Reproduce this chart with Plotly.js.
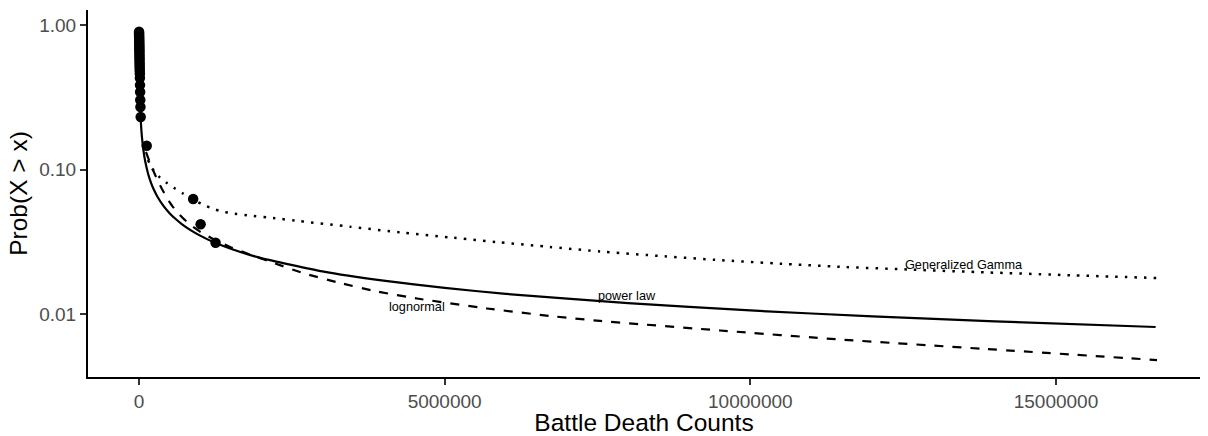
<!DOCTYPE html>
<html>
<head>
<meta charset="utf-8">
<script src="https://cdn.plot.ly/plotly-3.0.1.min.js"></script>
<style>
  html, body { margin: 0; padding: 0; background: #fff; }
  #chart { width: 1208px; height: 436px; }
</style>
</head>
<body>
<div id="chart"></div>
<script>
// Observed data: empirical survival probabilities
const obsX = [1000, 1500, 2000, 2500, 3000, 3500, 4000, 4500, 5000, 5500, 6000, 6500, 7000, 7500,
              8000, 8500, 9000, 9500, 10000, 11000, 12000, 13000, 14000,
              15000, 17000, 19000, 21000, 24000, 28000,
              126000, 886000, 1008000, 1253000];
const obsY = [0.90, 0.88, 0.86, 0.84, 0.82, 0.80, 0.78, 0.76, 0.74, 0.72, 0.70, 0.68, 0.66, 0.64,
              0.62, 0.60, 0.58, 0.56, 0.54, 0.52, 0.50, 0.48, 0.46,
              0.43, 0.384, 0.344, 0.303, 0.271, 0.231,
              0.146, 0.0625, 0.0418, 0.0311];

// Fitted power law (solid)
const plX = [30000, 40000, 50000, 75000, 100000, 150000, 200000, 250000, 300000, 400000, 500000,
             600000, 700000, 850000, 1000000, 1200000, 1500000, 2000000, 3000000, 4000000, 5000000,
             6000000, 8000000, 10000000, 12000000, 14000000, 16630000];
const plY = [0.2145, 0.1847, 0.1646, 0.1334, 0.1149, 0.0932, 0.0803, 0.0715, 0.0651, 0.0560, 0.0499,
             0.04544, 0.04195, 0.03793, 0.03487, 0.03173, 0.02827, 0.02435, 0.01974, 0.01701, 0.01515,
             0.01378, 0.01188, 0.01058, 0.00963, 0.00889, 0.00813];

// Fitted lognormal (dashed)
const lnX = [114500, 163600, 229000, 294500, 376300, 458100, 539800, 638000, 752500, 867000, 997900,
             1243200, 1488600, 1815800, 2224800, 2682800, 3288100, 3893400, 4547700, 5692800, 6723400,
             7541300, 9504400, 11467400, 13872100, 16653000];
const lnY = [0.1322, 0.1163, 0.0992, 0.0860, 0.0733, 0.0635, 0.0563, 0.0500, 0.0447, 0.0406, 0.0372,
             0.0325, 0.0291, 0.0258, 0.0224, 0.0192, 0.0164, 0.01431, 0.01280, 0.01092, 0.00969,
             0.00895, 0.00769, 0.00666, 0.00572, 0.00480];

// Fitted generalized gamma (dotted)
const ggX = [147200, 212700, 278100, 343500, 458000, 588900, 719800, 916100, 1079700, 1210500,
             1357800, 1521300, 1815800, 2224800, 2633700, 3451700, 4269600, 5087500, 5905500,
             6723400, 7541300, 8522800, 9504400, 10485900, 11467400, 12612500, 13872100, 15229900, 16653000];
const ggY = [0.1163, 0.1024, 0.0938, 0.0880, 0.0806, 0.0739, 0.0682, 0.0610, 0.0563, 0.0535,
             0.0512, 0.0498, 0.0480, 0.0460, 0.0439, 0.0402, 0.0367, 0.0339, 0.0313,
             0.0291, 0.0271, 0.0252, 0.0236, 0.0223, 0.0212, 0.0203, 0.0194, 0.01855, 0.01774];

// Curve labels
const labelText = ["power law", "lognormal", "Generalized Gamma"];
const labelX = [7990000, 4542000, 13497000];
const labelY = [0.01332, 0.01117, 0.02201];

// Axis ticks
const xTickVals = [0, 5000000, 10000000, 15000000];
const xTickText = ["0", "5000000", "10000000", "15000000"];
const yTickVals = [0.01, 0.1, 1];
const yTickText = ["0.01", "0.10", "1.00"];

const FONT = "Liberation Sans, Arial, Helvetica, sans-serif";

const traces = [
  { x: plX, y: plY, type: "scatter", mode: "lines",
    line: { color: "#000", width: 2.2, shape: "spline", smoothing: 0.4 }, hoverinfo: "skip" },
  { x: lnX, y: lnY, type: "scatter", mode: "lines",
    line: { color: "#000", width: 2.2, dash: "9px,9px", shape: "spline", smoothing: 0.4 }, hoverinfo: "skip" },
  { x: ggX, y: ggY, type: "scatter", mode: "lines",
    line: { color: "#000", width: 2.5, dash: "2.5px,7.1px", shape: "spline", smoothing: 0.4 }, hoverinfo: "skip" },
  { x: obsX, y: obsY, type: "scatter", mode: "markers",
    marker: { color: "#000", size: 10.5, line: { width: 0 } } }
];

const annotations = labelText.map((t, i) => ({
  x: labelX[i], y: Math.log10(labelY[i]), xref: "x", yref: "y",
  text: t, showarrow: false, xanchor: "center", yanchor: "middle",
  font: { family: FONT, size: 12.7, color: "#000" }
}));

const layout = {
  width: 1208, height: 436,
  margin: { l: 88, r: 8, t: 10, b: 59 },
  paper_bgcolor: "#fff", plot_bgcolor: "#fff",
  showlegend: false,
  font: { family: FONT },
  xaxis: {
    range: [-834000, 17356000], autorange: false,
    showgrid: false, zeroline: false,
    showline: true, linecolor: "#000", linewidth: 2,
    ticks: "outside", ticklen: 6, tickwidth: 2, tickcolor: "#333",
    tickvals: xTickVals, ticktext: xTickText,
    tickfont: { family: FONT, size: 19, color: "#4d4d4d" },
    title: { text: "Battle Death Counts", font: { family: FONT, size: 24.5, color: "#000" }, standoff: 5 },
    automargin: false
  },
  yaxis: {
    type: "log", range: [-2.436, 0.104], autorange: false,
    showgrid: false, zeroline: false,
    showline: true, linecolor: "#000", linewidth: 2,
    ticks: "outside", ticklen: 6, tickwidth: 2, tickcolor: "#333",
    tickvals: yTickVals, ticktext: yTickText,
    tickfont: { family: FONT, size: 19, color: "#4d4d4d" },
    title: { text: "Prob(X > x)", font: { family: FONT, size: 24.5, color: "#000" }, standoff: 5 },
    automargin: false
  },
  annotations: annotations
};

Plotly.newPlot("chart", traces, layout, { displayModeBar: false, staticPlot: true });
</script>
</body>
</html>
